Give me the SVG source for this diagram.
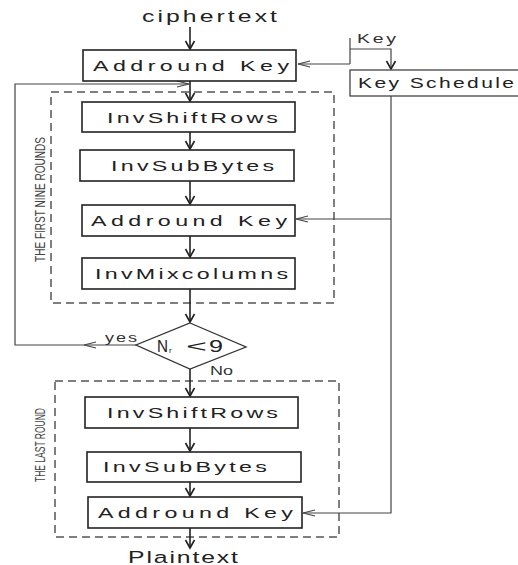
<svg xmlns="http://www.w3.org/2000/svg" width="518" height="565" viewBox="0 0 518 565">
<defs>
<style>
.box{fill:#fff;stroke:#222;stroke-width:1.6}
.dash{fill:none;stroke:#555;stroke-width:1.5;stroke-dasharray:8 5}
.t{font-family:"Liberation Sans",Arial,sans-serif;font-size:15.5px;fill:#222}
.s{font-family:"Liberation Sans",Arial,sans-serif;font-size:12px;fill:#333}
.v{font-family:"Liberation Sans",Arial,sans-serif;font-size:15px;fill:#444;text-anchor:middle}
.ln{fill:none;stroke:#222;stroke-width:1.6}
.lt{fill:none;stroke:#444;stroke-width:1.2}
</style>
<marker id="ah" markerUnits="userSpaceOnUse" markerWidth="12" markerHeight="12" refX="10" refY="6" orient="auto">
<path d="M2,1.5 L10,6 L2,10.5" fill="none" stroke="#222" stroke-width="1.6"/>
</marker>
<marker id="ahs" markerUnits="userSpaceOnUse" markerWidth="14" markerHeight="10" refX="13" refY="5" orient="auto">
<path d="M1,2 L13,5 L1,8" fill="none" stroke="#444" stroke-width="1.1"/>
</marker>
</defs>

<rect x="51" y="92" width="283" height="211" class="dash"/>
<rect x="55" y="381" width="284" height="156" class="dash"/>
<text class="v" transform="translate(45,199.5) rotate(-90)" textLength="125" lengthAdjust="spacingAndGlyphs">THE FIRST NINE ROUNDS</text>
<text class="v" transform="translate(45,445) rotate(-90)" textLength="74" lengthAdjust="spacingAndGlyphs">THE LAST ROUND</text>

<g id="connectors">
<path class="ln" d="M190,27 V49" marker-end="url(#ah)"/>
<path class="ln" d="M190,81 V101" marker-end="url(#ah)"/>
<path class="ln" d="M190,132 V149" marker-end="url(#ah)"/>
<path class="ln" d="M190,181 V204" marker-end="url(#ah)"/>
<path class="ln" d="M190,236 V257" marker-end="url(#ah)"/>
<path class="ln" d="M190,289 V322" marker-end="url(#ah)"/>
<path class="ln" d="M190,369 V396" marker-end="url(#ah)"/>
<path class="ln" d="M190,428 V451" marker-end="url(#ah)"/>
<path class="ln" d="M190,482 V496" marker-end="url(#ah)"/>
<path class="ln" d="M190,528 V548" marker-end="url(#ah)"/>
<path class="lt" d="M136,345 H84" marker-end="url(#ahs)"/>
<path class="lt" d="M84,345 H15 V84 H189" marker-end="url(#ahs)"/>
<path class="lt" d="M350,38 V64"/>
<path class="lt" d="M350,49 H391 V69" marker-end="url(#ah)"/>
<path class="lt" d="M350,64 H298" marker-end="url(#ahs)"/>
<path class="lt" d="M391,96 V513 H303" marker-end="url(#ahs)"/>
<path class="lt" d="M391,219 H296" marker-end="url(#ahs)"/>
</g>

<text class="t" transform="translate(142,22) scale(1.5,1)" textLength="90" lengthAdjust="spacing" style="font-size:16.5px">ciphertext</text>
<text class="s" transform="translate(357,43) scale(1.5,1)" textLength="26" lengthAdjust="spacing" style="font-size:13px">Key</text>

<g id="ark1"><rect class="box" x="83" y="50" width="213" height="31"/>
<text class="t" transform="translate(93,71) scale(1.5,1)" textLength="130.7" lengthAdjust="spacing">Addround  Key</text></g>

<g id="keyschedule"><rect class="box" x="350" y="70" width="200" height="26" style="stroke:#444;stroke-width:1.3"/>
<text class="t" transform="translate(358,88) scale(1.5,1)" textLength="104" lengthAdjust="spacing" style="font-size:14px">Key  Schedule</text></g>

<g id="isr1"><rect class="box" x="82" y="102" width="213" height="30"/>
<text class="t" transform="translate(107,122.5) scale(1.5,1)" textLength="114" lengthAdjust="spacing">InvShiftRows</text></g>

<g id="isb1"><rect class="box" x="80" y="150" width="214" height="31"/>
<text class="t" transform="translate(111,171) scale(1.5,1)" textLength="108.7" lengthAdjust="spacing">InvSubBytes</text></g>

<g id="ark2"><rect class="box" x="82" y="205" width="213" height="31"/>
<text class="t" transform="translate(91,226) scale(1.5,1)" textLength="130.7" lengthAdjust="spacing">Addround  Key</text></g>

<g id="imc"><rect class="box" x="82" y="258" width="213" height="31"/>
<text class="t" transform="translate(95,279) scale(1.5,1)" textLength="128.7" lengthAdjust="spacing">InvMixcolumns</text></g>

<g id="decision"><polygon points="190,323 246,347 190,369 136,345" fill="#fff" stroke="#333" stroke-width="1.3"/>
<text class="t" x="157" y="352" textLength="11" lengthAdjust="spacingAndGlyphs" style="font-size:16px">N</text>
<text class="t" x="169" y="353" style="font-size:8px">r</text>
<text class="t" x="186" y="352" textLength="21" lengthAdjust="spacingAndGlyphs" style="font-size:17px">&lt;</text>
<text class="t" x="209" y="352" textLength="14" lengthAdjust="spacingAndGlyphs" style="font-size:16px">9</text>
<text class="s" transform="translate(105,342) scale(1.5,1)" textLength="21.3" lengthAdjust="spacing">yes</text>
<text class="s" transform="translate(210,375) scale(1.5,1)" textLength="15.3" lengthAdjust="spacing">No</text></g>

<g id="isr2"><rect class="box" x="85" y="397" width="213" height="31"/>
<text class="t" transform="translate(107,418) scale(1.5,1)" textLength="114" lengthAdjust="spacing">InvShiftRows</text></g>

<g id="isb2"><rect class="box" x="87" y="452" width="214" height="30"/>
<text class="t" transform="translate(103,472) scale(1.5,1)" textLength="109.3" lengthAdjust="spacing">InvSubBytes</text></g>

<g id="ark3"><rect class="box" x="88" y="497" width="214" height="31"/>
<text class="t" transform="translate(98,518) scale(1.5,1)" textLength="130" lengthAdjust="spacing">Addround  Key</text></g>

<text class="t" transform="translate(128,563) scale(1.5,1)" textLength="73.3" lengthAdjust="spacing" style="font-size:16.5px">Plaintext</text>
</svg>
